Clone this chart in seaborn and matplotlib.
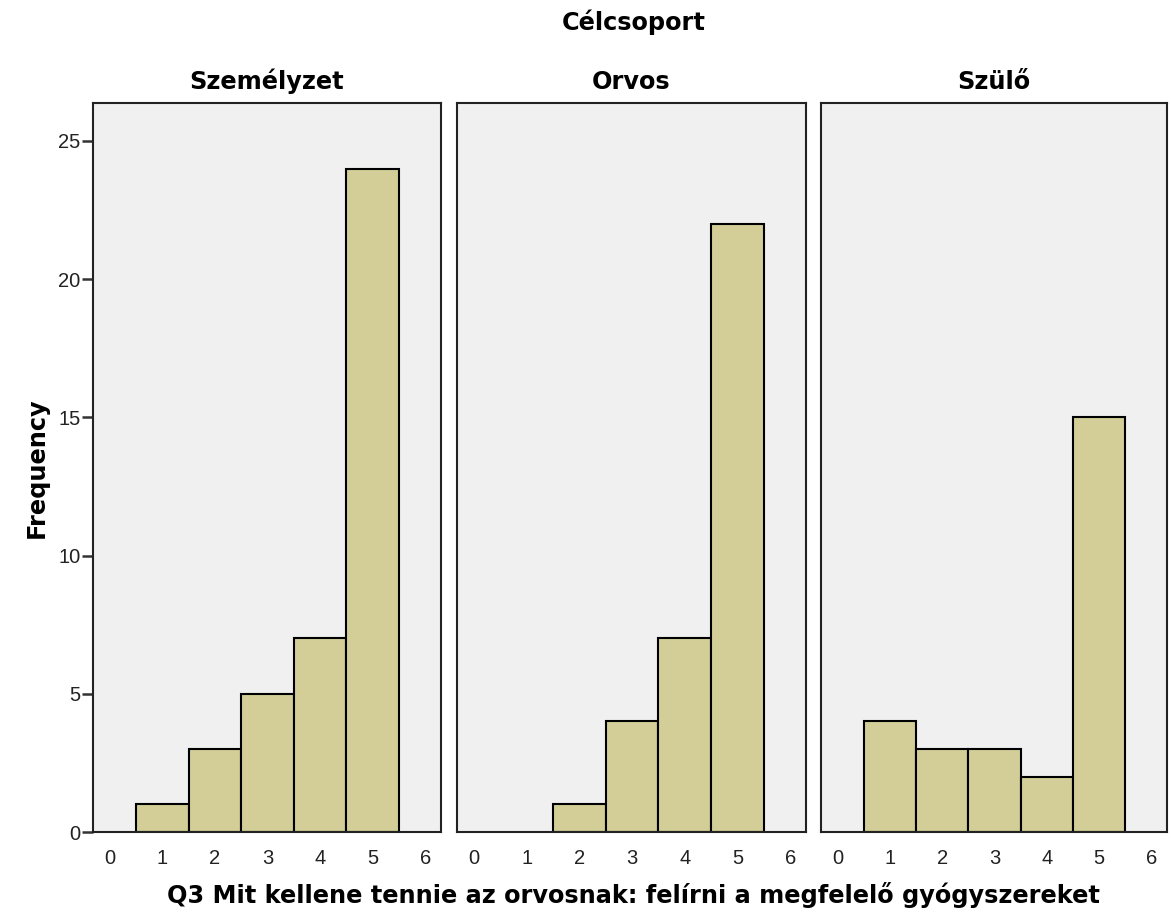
import matplotlib
matplotlib.use("Agg")
import matplotlib.pyplot as plt
import seaborn as sns
import pandas as pd

groups = ["Személyzet", "Orvos", "Szülő"]
scores = [1, 2, 3, 4, 5]
counts_szemelyzet = [1, 3, 5, 7, 24]
counts_orvos = [0, 1, 4, 7, 22]
counts_szulo = [4, 3, 3, 2, 15]
x_ticks = [0, 1, 2, 3, 4, 5, 6]
y_ticks = [0, 5, 10, 15, 20, 25]

all_counts = [counts_szemelyzet, counts_orvos, counts_szulo]

sns.set_theme(style="white")
plt.rcParams["font.family"] = ["Liberation Sans", "DejaVu Sans"]
bold_font = ["DejaVu Sans"]

fig = plt.figure(figsize=(11.71, 9.24), dpi=100)
W, H = 1171, 924
lefts = [93, 457, 821]
widths = [348, 349, 346]
top, bottom = 103, 832

bg = "#F0F0F0"
bar_color = "#D3CE97"
fs_bold = 17.3

axes = []
for i, (g, cnts) in enumerate(zip(groups, all_counts)):
    ax = fig.add_axes([lefts[i] / W, 1 - bottom / H, widths[i] / W, (bottom - top) / H])
    axes.append(ax)
    df = pd.DataFrame({"score": scores, "count": cnts})
    df = df[df["count"] > 0]
    sns.histplot(data=df, x="score", weights="count", discrete=True, ax=ax,
                 color=bar_color, alpha=1, edgecolor="black", linewidth=1.5)
    ax.set_facecolor(bg)
    ax.set_xlim(-0.32, 6.3)
    ax.set_ylim(0, 26.37)
    ax.set_xticks(x_ticks)
    ax.set_xticklabels([str(t) for t in x_ticks], fontsize=14.5, color="#222222")
    ax.tick_params(axis="x", direction="out", length=8, width=1.8, color="#333333", pad=4)
    if i == 0:
        ax.set_yticks(y_ticks)
        ax.set_yticklabels([str(t) for t in y_ticks], fontsize=14.5, color="#222222")
        ax.tick_params(axis="y", direction="out", length=8, width=1.8, color="#333333", pad=1, left=True)
        ax.set_ylabel("Frequency", fontsize=fs_bold, fontweight="bold", family=bold_font,
                      labelpad=7, color="black")
    else:
        ax.set_yticks([])
        ax.set_ylabel("")
    ax.set_xlabel("")
    ax.set_title(g, fontsize=fs_bold, fontweight="bold", family=bold_font, pad=10, color="black")
    for s in ax.spines.values():
        s.set_visible(True)
        s.set_color("#222222")
        s.set_linewidth(1.5)
    ax.grid(False)

fig.text(634 / W, 1 - 22 / H, "Célcsoport", ha="center", va="center",
         fontsize=fs_bold, fontweight="bold", family=bold_font, color="black")
fig.text(633 / W, 1 - 895 / H, "Q3 Mit kellene tennie az orvosnak: felírni a megfelelő gyógyszereket",
         ha="center", va="center", fontsize=fs_bold, fontweight="bold", family=bold_font, color="black")

fig.savefig("out.png", dpi=100)
